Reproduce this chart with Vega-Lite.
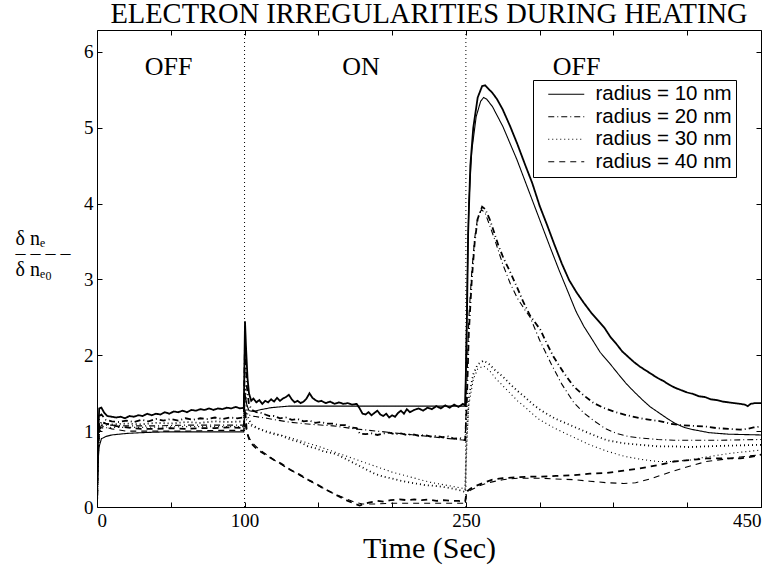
{
"$schema": "https://vega.github.io/schema/vega-lite/v6.json",
"autosize": "none",
"width": 664,
"height": 477,
"padding": {"left": 97, "top": 30, "right": 12, "bottom": 59},
"background": "white",
"config": {
  "view": {"stroke": "black", "strokeWidth": 1},
  "axis": {"domain": false, "grid": false, "tickColor": "black", "tickSize": -5, "labelFont": "Liberation Serif", "labelFontSize": 19, "labelColor": "black", "titleFont": "Liberation Serif", "titleFontWeight": "normal", "titleColor": "black"}
},
"title": {"text": "ELECTRON IRREGULARITIES DURING HEATING", "font": "Liberation Serif", "fontSize": 28.5, "fontWeight": "normal", "color": "black", "anchor": "middle", "frame": "group", "offset": 1},
"datasets": {
  "meta": [
    {"s": "A", "radius": "radius = 10 nm", "kind": "a"},
    {"s": "B", "radius": "radius = 10 nm", "kind": "b"},
    {"s": "C", "radius": "radius = 20 nm", "kind": "a"},
    {"s": "D", "radius": "radius = 20 nm", "kind": "b"},
    {"s": "E", "radius": "radius = 30 nm", "kind": "a"},
    {"s": "F", "radius": "radius = 30 nm", "kind": "b"},
    {"s": "G", "radius": "radius = 40 nm", "kind": "a"},
    {"s": "H", "radius": "radius = 40 nm", "kind": "b"}
  ]
},
"layer": [
{
"data": {"values": [
{"s":"A","t":0,"v":0},{"s":"A","t":0.7,"v":0.9},{"s":"A","t":1.5,"v":1.3},{"s":"A","t":3,"v":1.31},{"s":"A","t":5,"v":1.24},{"s":"A","t":7,"v":1.2},{"s":"A","t":10,"v":1.19},{"s":"A","t":13,"v":1.18},{"s":"A","t":16,"v":1.19},{"s":"A","t":19,"v":1.17},{"s":"A","t":22,"v":1.2},{"s":"A","t":25,"v":1.19},{"s":"A","t":28,"v":1.21},{"s":"A","t":31,"v":1.2},{"s":"A","t":34,"v":1.23},{"s":"A","t":37,"v":1.21},{"s":"A","t":40,"v":1.23},{"s":"A","t":43,"v":1.22},{"s":"A","t":46,"v":1.25},{"s":"A","t":49,"v":1.23},{"s":"A","t":52,"v":1.26},{"s":"A","t":55,"v":1.25},{"s":"A","t":58,"v":1.27},{"s":"A","t":61,"v":1.25},{"s":"A","t":64,"v":1.28},{"s":"A","t":67,"v":1.27},{"s":"A","t":70,"v":1.29},{"s":"A","t":73,"v":1.28},{"s":"A","t":76,"v":1.3},{"s":"A","t":79,"v":1.28},{"s":"A","t":82,"v":1.3},{"s":"A","t":85,"v":1.29},{"s":"A","t":88,"v":1.31},{"s":"A","t":91,"v":1.3},{"s":"A","t":94,"v":1.32},{"s":"A","t":97,"v":1.3},{"s":"A","t":99.5,"v":1.31},{"s":"A","t":100.3,"v":2.45},{"s":"A","t":101,"v":2.1},{"s":"A","t":102,"v":1.7},{"s":"A","t":103,"v":1.5},{"s":"A","t":104.5,"v":1.4},{"s":"A","t":106,"v":1.43},{"s":"A","t":108,"v":1.38},{"s":"A","t":110,"v":1.41},{"s":"A","t":112,"v":1.36},{"s":"A","t":114,"v":1.4},{"s":"A","t":116,"v":1.38},{"s":"A","t":118,"v":1.42},{"s":"A","t":120,"v":1.39},{"s":"A","t":122,"v":1.44},{"s":"A","t":124,"v":1.4},{"s":"A","t":126,"v":1.43},{"s":"A","t":128,"v":1.45},{"s":"A","t":130,"v":1.48},{"s":"A","t":132,"v":1.42},{"s":"A","t":134,"v":1.38},{"s":"A","t":136,"v":1.4},{"s":"A","t":138,"v":1.37},{"s":"A","t":140,"v":1.39},{"s":"A","t":142,"v":1.43},{"s":"A","t":144,"v":1.5},{"s":"A","t":146,"v":1.44},{"s":"A","t":148,"v":1.41},{"s":"A","t":150,"v":1.39},{"s":"A","t":152,"v":1.4},{"s":"A","t":155,"v":1.37},{"s":"A","t":158,"v":1.39},{"s":"A","t":161,"v":1.36},{"s":"A","t":164,"v":1.38},{"s":"A","t":167,"v":1.36},{"s":"A","t":170,"v":1.37},{"s":"A","t":173,"v":1.35},{"s":"A","t":176,"v":1.36},{"s":"A","t":178,"v":1.3},{"s":"A","t":180,"v":1.23},{"s":"A","t":182,"v":1.22},{"s":"A","t":184,"v":1.25},{"s":"A","t":186,"v":1.21},{"s":"A","t":188,"v":1.24},{"s":"A","t":190,"v":1.27},{"s":"A","t":192,"v":1.22},{"s":"A","t":194,"v":1.2},{"s":"A","t":196,"v":1.23},{"s":"A","t":198,"v":1.18},{"s":"A","t":200,"v":1.21},{"s":"A","t":202,"v":1.19},{"s":"A","t":204,"v":1.24},{"s":"A","t":206,"v":1.27},{"s":"A","t":208,"v":1.23},{"s":"A","t":210,"v":1.29},{"s":"A","t":212,"v":1.25},{"s":"A","t":215,"v":1.28},{"s":"A","t":218,"v":1.3},{"s":"A","t":221,"v":1.27},{"s":"A","t":224,"v":1.31},{"s":"A","t":227,"v":1.29},{"s":"A","t":230,"v":1.33},{"s":"A","t":233,"v":1.3},{"s":"A","t":236,"v":1.34},{"s":"A","t":239,"v":1.31},{"s":"A","t":242,"v":1.35},{"s":"A","t":245,"v":1.32},{"s":"A","t":248,"v":1.36},{"s":"A","t":249.5,"v":1.34},{"s":"A","t":250.5,"v":2.2},{"s":"A","t":251.5,"v":3.6},{"s":"A","t":253,"v":4.5},{"s":"A","t":255,"v":5.0},{"s":"A","t":258,"v":5.4},{"s":"A","t":261,"v":5.55},{"s":"A","t":263,"v":5.56},{"s":"A","t":265,"v":5.52},{"s":"A","t":268,"v":5.46},{"s":"A","t":271,"v":5.38},{"s":"A","t":275,"v":5.24},{"s":"A","t":280,"v":5.02},{"s":"A","t":285,"v":4.78},{"s":"A","t":290,"v":4.52},{"s":"A","t":295,"v":4.27},{"s":"A","t":300,"v":3.97},{"s":"A","t":305,"v":3.72},{"s":"A","t":310,"v":3.46},{"s":"A","t":315,"v":3.21},{"s":"A","t":320,"v":2.99},{"s":"A","t":325,"v":2.83},{"s":"A","t":330,"v":2.69},{"s":"A","t":335,"v":2.56},{"s":"A","t":340,"v":2.45},{"s":"A","t":344,"v":2.36},{"s":"A","t":348,"v":2.24},{"s":"A","t":352,"v":2.15},{"s":"A","t":356,"v":2.05},{"s":"A","t":360,"v":1.98},{"s":"A","t":364,"v":1.91},{"s":"A","t":368,"v":1.85},{"s":"A","t":372,"v":1.8},{"s":"A","t":376,"v":1.75},{"s":"A","t":380,"v":1.7},{"s":"A","t":384,"v":1.66},{"s":"A","t":388,"v":1.61},{"s":"A","t":392,"v":1.57},{"s":"A","t":396,"v":1.54},{"s":"A","t":400,"v":1.51},{"s":"A","t":404,"v":1.49},{"s":"A","t":408,"v":1.46},{"s":"A","t":412,"v":1.45},{"s":"A","t":416,"v":1.42},{"s":"A","t":420,"v":1.41},{"s":"A","t":424,"v":1.39},{"s":"A","t":428,"v":1.38},{"s":"A","t":432,"v":1.37},{"s":"A","t":436,"v":1.36},{"s":"A","t":439,"v":1.35},{"s":"A","t":441,"v":1.33},{"s":"A","t":443,"v":1.36},{"s":"A","t":446,"v":1.37},{"s":"A","t":450,"v":1.37},
{"s":"B","t":0,"v":0},{"s":"B","t":0.5,"v":0.55},{"s":"B","t":1.5,"v":0.8},{"s":"B","t":3,"v":0.9},{"s":"B","t":6,"v":0.93},{"s":"B","t":10,"v":0.95},{"s":"B","t":20,"v":0.97},{"s":"B","t":30,"v":0.98},{"s":"B","t":45,"v":0.99},{"s":"B","t":70,"v":0.99},{"s":"B","t":99.5,"v":0.99},{"s":"B","t":100.3,"v":1.5},{"s":"B","t":101.5,"v":1.35},{"s":"B","t":103,"v":1.27},{"s":"B","t":106,"v":1.26},{"s":"B","t":110,"v":1.28},{"s":"B","t":118,"v":1.31},{"s":"B","t":130,"v":1.33},{"s":"B","t":249.5,"v":1.33},{"s":"B","t":250.5,"v":2.5},{"s":"B","t":252,"v":4.0},{"s":"B","t":254,"v":4.7},{"s":"B","t":257,"v":5.15},{"s":"B","t":260,"v":5.35},{"s":"B","t":262,"v":5.4},{"s":"B","t":264,"v":5.38},{"s":"B","t":268,"v":5.28},{"s":"B","t":275,"v":5.02},{"s":"B","t":284.6,"v":4.58},{"s":"B","t":295.9,"v":4.0},{"s":"B","t":307,"v":3.43},{"s":"B","t":313,"v":3.13},{"s":"B","t":318.5,"v":2.87},{"s":"B","t":324.6,"v":2.58},{"s":"B","t":330,"v":2.38},{"s":"B","t":335.9,"v":2.2},{"s":"B","t":341,"v":2.04},{"s":"B","t":347.2,"v":1.9},{"s":"B","t":353,"v":1.76},{"s":"B","t":358.5,"v":1.63},{"s":"B","t":364,"v":1.52},{"s":"B","t":369.8,"v":1.41},{"s":"B","t":375,"v":1.32},{"s":"B","t":381,"v":1.24},{"s":"B","t":387,"v":1.16},{"s":"B","t":392,"v":1.1},{"s":"B","t":398,"v":1.05},{"s":"B","t":404,"v":1.02},{"s":"B","t":415,"v":0.98},{"s":"B","t":428,"v":0.96},{"s":"B","t":450,"v":0.95},
{"s":"C","t":0,"v":0},{"s":"C","t":0.7,"v":0.8},{"s":"C","t":1.5,"v":1.2},{"s":"C","t":3,"v":1.22},{"s":"C","t":6,"v":1.15},{"s":"C","t":10,"v":1.13},{"s":"C","t":15,"v":1.12},{"s":"C","t":20,"v":1.14},{"s":"C","t":25,"v":1.12},{"s":"C","t":30,"v":1.15},{"s":"C","t":35,"v":1.13},{"s":"C","t":40,"v":1.16},{"s":"C","t":45,"v":1.14},{"s":"C","t":50,"v":1.16},{"s":"C","t":55,"v":1.14},{"s":"C","t":60,"v":1.17},{"s":"C","t":65,"v":1.15},{"s":"C","t":70,"v":1.17},{"s":"C","t":75,"v":1.16},{"s":"C","t":80,"v":1.18},{"s":"C","t":85,"v":1.16},{"s":"C","t":90,"v":1.18},{"s":"C","t":95,"v":1.17},{"s":"C","t":99.5,"v":1.18},{"s":"C","t":100.3,"v":2.2},{"s":"C","t":101.5,"v":1.6},{"s":"C","t":103,"v":1.35},{"s":"C","t":105,"v":1.28},{"s":"C","t":108,"v":1.25},{"s":"C","t":111,"v":1.24},{"s":"C","t":114,"v":1.22},{"s":"C","t":117,"v":1.2},{"s":"C","t":120,"v":1.2},{"s":"C","t":124,"v":1.17},{"s":"C","t":128,"v":1.18},{"s":"C","t":132,"v":1.15},{"s":"C","t":136,"v":1.16},{"s":"C","t":140,"v":1.13},{"s":"C","t":144,"v":1.14},{"s":"C","t":148,"v":1.11},{"s":"C","t":152,"v":1.12},{"s":"C","t":156,"v":1.1},{"s":"C","t":160,"v":1.1},{"s":"C","t":164,"v":1.08},{"s":"C","t":168,"v":1.08},{"s":"C","t":172,"v":1.05},{"s":"C","t":176,"v":1.04},{"s":"C","t":178,"v":0.97},{"s":"C","t":182,"v":0.96},{"s":"C","t":186,"v":0.97},{"s":"C","t":190,"v":0.95},{"s":"C","t":194,"v":0.97},{"s":"C","t":198,"v":0.98},{"s":"C","t":202,"v":0.96},{"s":"C","t":206,"v":0.97},{"s":"C","t":210,"v":0.95},{"s":"C","t":214,"v":0.96},{"s":"C","t":218,"v":0.94},{"s":"C","t":222,"v":0.95},{"s":"C","t":226,"v":0.93},{"s":"C","t":230,"v":0.94},{"s":"C","t":234,"v":0.92},{"s":"C","t":238,"v":0.93},{"s":"C","t":242,"v":0.9},{"s":"C","t":246,"v":0.91},{"s":"C","t":249.5,"v":0.88},{"s":"C","t":250.5,"v":1.3},{"s":"C","t":252,"v":2.3},{"s":"C","t":254,"v":3.0},{"s":"C","t":256,"v":3.5},{"s":"C","t":258,"v":3.8},{"s":"C","t":261,"v":3.96},{"s":"C","t":263,"v":3.93},{"s":"C","t":266,"v":3.8},{"s":"C","t":269,"v":3.63},{"s":"C","t":272,"v":3.45},{"s":"C","t":275.5,"v":3.28},{"s":"C","t":280,"v":3.1},{"s":"C","t":284.6,"v":2.9},{"s":"C","t":289,"v":2.7},{"s":"C","t":293.6,"v":2.52},{"s":"C","t":300.4,"v":2.34},{"s":"C","t":305,"v":2.15},{"s":"C","t":309.4,"v":1.98},{"s":"C","t":316,"v":1.78},{"s":"C","t":323,"v":1.59},{"s":"C","t":330,"v":1.47},{"s":"C","t":336.6,"v":1.37},{"s":"C","t":343,"v":1.31},{"s":"C","t":350,"v":1.26},{"s":"C","t":359,"v":1.21},{"s":"C","t":368,"v":1.17},{"s":"C","t":375,"v":1.15},{"s":"C","t":382,"v":1.13},{"s":"C","t":388,"v":1.1},{"s":"C","t":395,"v":1.08},{"s":"C","t":404,"v":1.07},{"s":"C","t":413,"v":1.06},{"s":"C","t":420,"v":1.04},{"s":"C","t":428,"v":1.03},{"s":"C","t":436,"v":1.02},{"s":"C","t":441,"v":1.03},{"s":"C","t":445,"v":1.05},{"s":"C","t":450,"v":1.06},
{"s":"D","t":0,"v":0},{"s":"D","t":0.7,"v":0.7},{"s":"D","t":1.5,"v":1.0},{"s":"D","t":3,"v":1.08},{"s":"D","t":8,"v":1.08},{"s":"D","t":20,"v":1.07},{"s":"D","t":40,"v":1.07},{"s":"D","t":60,"v":1.08},{"s":"D","t":80,"v":1.08},{"s":"D","t":99.5,"v":1.08},{"s":"D","t":100.3,"v":1.25},{"s":"D","t":102,"v":1.22},{"s":"D","t":105,"v":1.2},{"s":"D","t":115,"v":1.17},{"s":"D","t":130,"v":1.12},{"s":"D","t":145,"v":1.09},{"s":"D","t":160,"v":1.07},{"s":"D","t":175,"v":1.03},{"s":"D","t":200,"v":0.98},{"s":"D","t":225,"v":0.93},{"s":"D","t":249.5,"v":0.88},{"s":"D","t":250.5,"v":1.5},{"s":"D","t":252,"v":2.5},{"s":"D","t":254,"v":3.1},{"s":"D","t":256,"v":3.55},{"s":"D","t":258,"v":3.82},{"s":"D","t":260.5,"v":3.92},{"s":"D","t":263,"v":3.88},{"s":"D","t":266,"v":3.72},{"s":"D","t":270,"v":3.5},{"s":"D","t":275,"v":3.2},{"s":"D","t":280,"v":2.95},{"s":"D","t":285,"v":2.75},{"s":"D","t":290,"v":2.6},{"s":"D","t":293.6,"v":2.5},{"s":"D","t":300,"v":2.2},{"s":"D","t":308,"v":1.88},{"s":"D","t":315,"v":1.62},{"s":"D","t":323,"v":1.38},{"s":"D","t":330,"v":1.24},{"s":"D","t":336.6,"v":1.14},{"s":"D","t":344,"v":1.04},{"s":"D","t":352,"v":0.97},{"s":"D","t":360,"v":0.93},{"s":"D","t":368,"v":0.91},{"s":"D","t":380,"v":0.89},{"s":"D","t":391,"v":0.88},{"s":"D","t":420,"v":0.88},{"s":"D","t":450,"v":0.89},
{"s":"E","t":0,"v":0},{"s":"E","t":0.7,"v":0.7},{"s":"E","t":1.5,"v":1.05},{"s":"E","t":3,"v":1.12},{"s":"E","t":6,"v":1.1},{"s":"E","t":10,"v":1.09},{"s":"E","t":20,"v":1.1},{"s":"E","t":30,"v":1.09},{"s":"E","t":40,"v":1.11},{"s":"E","t":50,"v":1.1},{"s":"E","t":60,"v":1.12},{"s":"E","t":70,"v":1.11},{"s":"E","t":80,"v":1.13},{"s":"E","t":90,"v":1.12},{"s":"E","t":99.5,"v":1.13},{"s":"E","t":100.3,"v":1.6},{"s":"E","t":102,"v":1.2},{"s":"E","t":104.5,"v":1.09},{"s":"E","t":108,"v":1.05},{"s":"E","t":111,"v":1.02},{"s":"E","t":115,"v":0.99},{"s":"E","t":120,"v":0.96},{"s":"E","t":125,"v":0.94},{"s":"E","t":131,"v":0.89},{"s":"E","t":137,"v":0.86},{"s":"E","t":143,"v":0.8},{"s":"E","t":149,"v":0.77},{"s":"E","t":154,"v":0.73},{"s":"E","t":160,"v":0.71},{"s":"E","t":165,"v":0.67},{"s":"E","t":170,"v":0.62},{"s":"E","t":176,"v":0.56},{"s":"E","t":182,"v":0.5},{"s":"E","t":188,"v":0.44},{"s":"E","t":194,"v":0.4},{"s":"E","t":199,"v":0.38},{"s":"E","t":205,"v":0.35},{"s":"E","t":210,"v":0.33},{"s":"E","t":216,"v":0.31},{"s":"E","t":222,"v":0.29},{"s":"E","t":228,"v":0.28},{"s":"E","t":233,"v":0.27},{"s":"E","t":239,"v":0.25},{"s":"E","t":244,"v":0.23},{"s":"E","t":249.5,"v":0.2},{"s":"E","t":250.5,"v":0.9},{"s":"E","t":252,"v":1.45},{"s":"E","t":255,"v":1.75},{"s":"E","t":258,"v":1.88},{"s":"E","t":262,"v":1.93},{"s":"E","t":266,"v":1.88},{"s":"E","t":270,"v":1.8},{"s":"E","t":275,"v":1.72},{"s":"E","t":280,"v":1.62},{"s":"E","t":285,"v":1.53},{"s":"E","t":290,"v":1.45},{"s":"E","t":295,"v":1.36},{"s":"E","t":300.4,"v":1.28},{"s":"E","t":310,"v":1.17},{"s":"E","t":323,"v":1.06},{"s":"E","t":335,"v":0.96},{"s":"E","t":345.6,"v":0.88},{"s":"E","t":357,"v":0.84},{"s":"E","t":368,"v":0.82},{"s":"E","t":380,"v":0.8},{"s":"E","t":391,"v":0.8},{"s":"E","t":402,"v":0.79},{"s":"E","t":413,"v":0.8},{"s":"E","t":430,"v":0.81},{"s":"E","t":450,"v":0.82},
{"s":"F","t":0,"v":0},{"s":"F","t":0.7,"v":0.6},{"s":"F","t":1.5,"v":0.95},{"s":"F","t":3,"v":1.04},{"s":"F","t":10,"v":1.05},{"s":"F","t":30,"v":1.05},{"s":"F","t":60,"v":1.06},{"s":"F","t":99.5,"v":1.06},{"s":"F","t":100.3,"v":1.2},{"s":"F","t":102,"v":1.12},{"s":"F","t":105,"v":1.06},{"s":"F","t":115,"v":1.0},{"s":"F","t":130,"v":0.92},{"s":"F","t":150,"v":0.8},{"s":"F","t":175,"v":0.63},{"s":"F","t":200,"v":0.46},{"s":"F","t":225,"v":0.33},{"s":"F","t":249.5,"v":0.24},{"s":"F","t":250.5,"v":0.8},{"s":"F","t":252,"v":1.35},{"s":"F","t":255,"v":1.68},{"s":"F","t":258,"v":1.82},{"s":"F","t":262,"v":1.86},{"s":"F","t":266,"v":1.8},{"s":"F","t":270,"v":1.7},{"s":"F","t":275,"v":1.6},{"s":"F","t":280,"v":1.5},{"s":"F","t":285,"v":1.4},{"s":"F","t":290,"v":1.32},{"s":"F","t":295,"v":1.23},{"s":"F","t":300,"v":1.15},{"s":"F","t":312,"v":1.02},{"s":"F","t":323,"v":0.92},{"s":"F","t":334,"v":0.82},{"s":"F","t":345,"v":0.74},{"s":"F","t":357,"v":0.67},{"s":"F","t":368,"v":0.63},{"s":"F","t":380,"v":0.6},{"s":"F","t":391,"v":0.6},{"s":"F","t":402,"v":0.62},{"s":"F","t":413,"v":0.66},{"s":"F","t":430,"v":0.71},{"s":"F","t":450,"v":0.75},
{"s":"G","t":0,"v":0},{"s":"G","t":0.7,"v":0.75},{"s":"G","t":1.5,"v":1.1},{"s":"G","t":3,"v":1.12},{"s":"G","t":6,"v":1.1},{"s":"G","t":10,"v":1.08},{"s":"G","t":15,"v":1.06},{"s":"G","t":20,"v":1.05},{"s":"G","t":25,"v":1.04},{"s":"G","t":30,"v":1.03},{"s":"G","t":40,"v":1.03},{"s":"G","t":50,"v":1.04},{"s":"G","t":60,"v":1.03},{"s":"G","t":70,"v":1.04},{"s":"G","t":80,"v":1.04},{"s":"G","t":90,"v":1.05},{"s":"G","t":99.5,"v":1.04},{"s":"G","t":100.3,"v":1.3},{"s":"G","t":101.5,"v":1.0},{"s":"G","t":103,"v":0.9},{"s":"G","t":104.5,"v":0.84},{"s":"G","t":107,"v":0.79},{"s":"G","t":111,"v":0.73},{"s":"G","t":115,"v":0.68},{"s":"G","t":120,"v":0.62},{"s":"G","t":125,"v":0.57},{"s":"G","t":131,"v":0.49},{"s":"G","t":137,"v":0.43},{"s":"G","t":143,"v":0.36},{"s":"G","t":149,"v":0.3},{"s":"G","t":154,"v":0.24},{"s":"G","t":160,"v":0.18},{"s":"G","t":165,"v":0.13},{"s":"G","t":170,"v":0.08},{"s":"G","t":175,"v":0.04},{"s":"G","t":178,"v":0.02},{"s":"G","t":181,"v":0.04},{"s":"G","t":185,"v":0.06},{"s":"G","t":190,"v":0.08},{"s":"G","t":195,"v":0.07},{"s":"G","t":199,"v":0.09},{"s":"G","t":205,"v":0.1},{"s":"G","t":210,"v":0.09},{"s":"G","t":215,"v":0.1},{"s":"G","t":220,"v":0.09},{"s":"G","t":225,"v":0.1},{"s":"G","t":230,"v":0.08},{"s":"G","t":235,"v":0.09},{"s":"G","t":240,"v":0.08},{"s":"G","t":245,"v":0.08},{"s":"G","t":249.5,"v":0.07},{"s":"G","t":250.5,"v":0.2},{"s":"G","t":253,"v":0.24},{"s":"G","t":257,"v":0.28},{"s":"G","t":262,"v":0.32},{"s":"G","t":268,"v":0.36},{"s":"G","t":275,"v":0.38},{"s":"G","t":283,"v":0.39},{"s":"G","t":292,"v":0.4},{"s":"G","t":300.4,"v":0.4},{"s":"G","t":311,"v":0.41},{"s":"G","t":323,"v":0.42},{"s":"G","t":334,"v":0.44},{"s":"G","t":345.6,"v":0.45},{"s":"G","t":357,"v":0.48},{"s":"G","t":368,"v":0.51},{"s":"G","t":380,"v":0.55},{"s":"G","t":391,"v":0.6},{"s":"G","t":402,"v":0.62},{"s":"G","t":413,"v":0.64},{"s":"G","t":425,"v":0.64},{"s":"G","t":436,"v":0.64},{"s":"G","t":443,"v":0.66},{"s":"G","t":450,"v":0.69},
{"s":"H","t":0,"v":0},{"s":"H","t":0.7,"v":0.7},{"s":"H","t":1.5,"v":1.02},{"s":"H","t":4,"v":1.06},{"s":"H","t":10,"v":1.03},{"s":"H","t":20,"v":1.0},{"s":"H","t":40,"v":1.0},{"s":"H","t":60,"v":1.0},{"s":"H","t":80,"v":1.01},{"s":"H","t":99.5,"v":1.01},{"s":"H","t":100.3,"v":1.1},{"s":"H","t":102,"v":0.95},{"s":"H","t":105,"v":0.85},{"s":"H","t":110,"v":0.76},{"s":"H","t":120,"v":0.62},{"s":"H","t":130,"v":0.5},{"s":"H","t":140,"v":0.39},{"s":"H","t":150,"v":0.28},{"s":"H","t":160,"v":0.18},{"s":"H","t":170,"v":0.1},{"s":"H","t":175,"v":0.06},{"s":"H","t":180,"v":0.04},{"s":"H","t":190,"v":0.04},{"s":"H","t":200,"v":0.05},{"s":"H","t":220,"v":0.05},{"s":"H","t":249.5,"v":0.05},{"s":"H","t":250.5,"v":0.18},{"s":"H","t":253,"v":0.22},{"s":"H","t":258,"v":0.27},{"s":"H","t":265,"v":0.32},{"s":"H","t":275,"v":0.36},{"s":"H","t":285,"v":0.38},{"s":"H","t":300,"v":0.38},{"s":"H","t":311,"v":0.37},{"s":"H","t":323,"v":0.36},{"s":"H","t":334,"v":0.34},{"s":"H","t":345.6,"v":0.32},{"s":"H","t":357,"v":0.31},{"s":"H","t":365,"v":0.32},{"s":"H","t":375,"v":0.37},{"s":"H","t":390,"v":0.47},{"s":"H","t":402,"v":0.54},{"s":"H","t":413,"v":0.6},{"s":"H","t":425,"v":0.63},{"s":"H","t":436,"v":0.66},{"s":"H","t":450,"v":0.69}
]},
"transform": [{"lookup": "s", "from": {"data": {"name": "meta"}, "key": "s", "fields": ["radius", "kind"]}}],
"mark": {"type": "line", "color": "black", "strokeCap": "butt", "clip": true},
"encoding": {
  "x": {"field": "t", "type": "quantitative", "scale": {"domain": [0, 450], "nice": false, "zero": false},
        "axis": {"orient": "bottom", "values": [0, 50, 100, 150, 200, 250, 300, 350, 400, 450], "labelExpr": "indexof([0,100,250,450], datum.value) >= 0 ? datum.label : ''", "labelFlush": true, "labelPadding": 9, "title": "Time (Sec)", "titleFontSize": 30, "titlePadding": 3}},
  "y": {"field": "v", "type": "quantitative", "scale": {"domain": [0, 6.29], "nice": false},
        "axis": {"orient": "left", "values": [0, 1, 2, 3, 4, 5, 6], "labelPadding": 9,
                 "title": ["δ nₑ", "– – – –", "δ nₑ₀"],
                 "titleAngle": 0, "titleAlign": "left", "titleBaseline": "alphabetic", "titleX": -82, "titleY": 214, "titleLineHeight": 15.5, "titleFontSize": 20}},
  "strokeDash": {"field": "radius", "type": "nominal",
                 "scale": {"domain": ["radius = 10 nm", "radius = 20 nm", "radius = 30 nm", "radius = 40 nm"], "range": [[1, 0], [6, 3, 1, 3], [1, 3], [6, 5]]},
                 "legend": {"title": null, "orient": "none", "legendX": 436, "legendY": 50, "strokeColor": "black", "fillColor": "white", "padding": 4, "labelFont": "Liberation Sans", "labelFontSize": 20.5, "labelColor": "black", "symbolType": "M-3,0H3", "symbolSize": 144, "symbolStrokeColor": "black", "symbolStrokeWidth": 1.2, "symbolOffset": 19, "labelOffset": 19, "rowPadding": 1.5}},
  "strokeWidth": {"field": "kind", "type": "ordinal", "scale": {"domain": ["a", "b"], "range": [1.8, 1.1]}, "legend": null},
  "detail": {"field": "s"}
}
},
{
"data": {"values": [{"t": 100}, {"t": 250}]},
"mark": {"type": "rule", "color": "black", "strokeWidth": 1, "strokeDash": [1, 3]},
"encoding": {
  "x": {"field": "t", "type": "quantitative", "axis": {"orient": "top", "values": [0, 50, 100, 150, 200, 250, 300, 350, 400, 450], "labels": false, "title": null}}
}
},
{
"data": {"values": [{"t": 48.5, "v": 5.8, "label": "OFF"}, {"t": 179, "v": 5.8, "label": "ON"}, {"t": 325, "v": 5.8, "label": "OFF"}]},
"mark": {"type": "text", "font": "Liberation Serif", "fontSize": 26, "color": "black", "baseline": "middle", "align": "center"},
"encoding": {
  "x": {"field": "t", "type": "quantitative", "axis": null},
  "y": {"field": "v", "type": "quantitative", "axis": {"orient": "right", "values": [0, 1, 2, 3, 4, 5, 6], "labels": false, "title": null}},
  "text": {"field": "label"}
}
}
],
"resolve": {"axis": {"x": "independent", "y": "independent"}}
}
